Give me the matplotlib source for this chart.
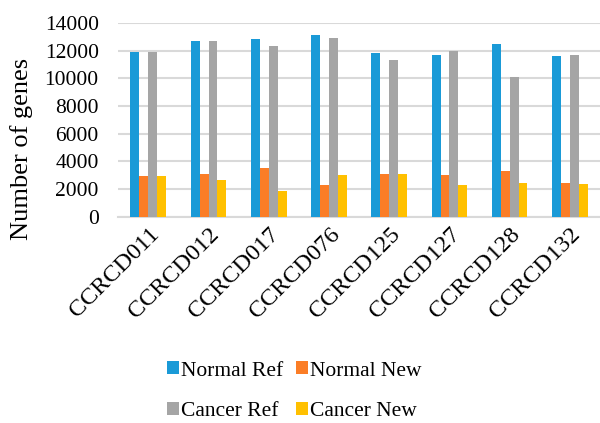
import matplotlib.pyplot as plt
import numpy as np

SAMPLES = ["CCRCD011", "CCRCD012", "CCRCD017", "CCRCD076",
           "CCRCD125", "CCRCD127", "CCRCD128", "CCRCD132"]
normal_ref = [11900, 12700, 12800, 13100, 11800, 11700, 12450, 11600]
normal_new = [2900, 3080, 3530, 2270, 3100, 2990, 3280, 2430]
cancer_ref = [11900, 12700, 12350, 12870, 11300, 11980, 10100, 11700]
cancer_new = [2900, 2630, 1880, 3010, 3100, 2270, 2430, 2360]

SERIES = [
    ("Normal Ref", normal_ref, "#1A9AD7"),
    ("Normal New", normal_new, "#FB7D26"),
    ("Cancer Ref", cancer_ref, "#A5A5A5"),
    ("Cancer New", cancer_new, "#FFC000"),
]

plt.rcParams["font.family"] = ["Liberation Serif", "DejaVu Serif"]

fig = plt.figure(figsize=(6.0, 4.23), dpi=100)
ax = fig.add_axes([0.197, 0.488, 0.803, 0.458])

x = np.arange(len(SAMPLES))
width = 0.148
handles = []
for i, (name, vals, color) in enumerate(SERIES):
    h = ax.bar(x + (i - 1.5) * width, vals, width, color=color, label=name, zorder=3)
    handles.append(h)

ax.set_ylim(0, 14000)
ax.set_xlim(-0.5, len(SAMPLES) - 0.5)
ax.set_yticks(np.arange(0, 14001, 2000))
ax.yaxis.grid(True, color="#D9D9D9", linewidth=1.5, zorder=0)
ax.set_axisbelow(True)
for side in ["top", "right", "left"]:
    ax.spines[side].set_visible(False)
ax.spines["bottom"].set_color("#D9D9D9")
ax.spines["bottom"].set_linewidth(1.5)
ax.tick_params(axis="both", length=0)
ax.tick_params(axis="y", pad=14, labelsize=15.5)
ax.set_xticks(x)
ax.set_xticklabels(SAMPLES, rotation=45, ha="right", rotation_mode="anchor", fontsize=17.5)
ax.tick_params(axis="x", pad=5)
ax.set_ylabel("Number of genes", fontsize=19, va="center")
ax.yaxis.set_label_coords(-0.2, 0.35)

# row-wise order: Normal Ref, Normal New / Cancer Ref, Cancer New
order = [0, 2, 1, 3]
fig.legend(handles=[handles[i] for i in order], loc="center", bbox_to_anchor=(0.49, 0.075), ncol=2,
           frameon=False, fontsize=15.5, handlelength=0.55, handleheight=0.55,
           handletextpad=0.1, columnspacing=0.6, labelspacing=1.0)

fig.savefig("out.png", dpi=100)
